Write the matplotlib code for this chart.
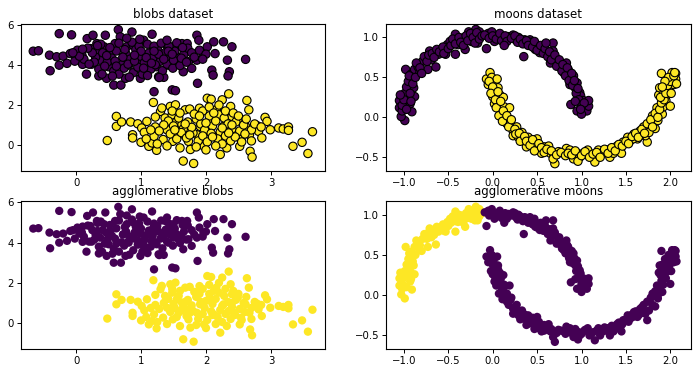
import matplotlib as mpl
import matplotlib.pyplot as plt
import numpy as np

mpl.use('agg')

# blobs: cluster 0 (purple) and cluster 1 (yellow)
blob0_x = [-0.66, -0.58, -0.26, -0.07, -0.41, -0.40, -0.30, -0.26, -0.20, -0.14, -0.09, -0.02, 0.02, 0.09,
           0.10, 0.16, 0.17, 0.26, 0.22, 0.24, 0.32, 0.33, 0.35, 0.37, 0.45, 0.43, 0.47, 0.50, 0.52, 0.58,
           0.60, 0.65, 0.68, 0.69, 0.73, 0.76, 0.78, 0.81, 0.86, 0.88, 0.94, 0.96, 0.99, 1.04, 1.06, 1.09,
           1.17, 1.19, 1.20, 1.24, 1.27, 1.35, 1.37, 1.35, 1.42, 1.48, 1.53, 1.50, 1.55, 1.63, 1.65, 1.71,
           1.73, 1.78, 1.86, 1.89, 1.87, 1.86, 1.96, 2.02, 2.09, 2.11, 2.12, 2.14, 2.27, 2.33, 2.36, 2.34,
           2.40, 2.61,
           0.30, 0.41, 0.55, 0.62, 0.48, 0.70, 0.77, 0.83, 0.92, 0.99, 1.05, 1.12, 1.18, 1.25, 1.30, 1.38,
           1.45, 1.52, 1.58, 1.66, 1.72, 0.35, 0.44, 0.58, 0.66, 0.74, 0.88, 0.95, 1.02, 1.15, 1.22, 1.33,
           1.40, 1.49, 1.60, 0.25, 0.38, 0.52, 0.66, 0.75, 0.86, 0.97, 1.10, 1.20, 1.31, 1.43, 1.55, 1.64,
           1.78, 1.82, 0.12, 0.18, 0.05, -0.05, 0.28, 0.33, 0.47, 0.60, 0.72, 0.80, 0.90, 1.00, 1.08, 1.16,
           1.27, 1.35, 1.42, 1.50, 1.62, 1.70, 0.56, 0.82, 1.10, 1.28, 0.40, 0.62, 0.90, 1.04, 1.20, 1.48,
           0.20, 0.10, 0.78, 0.98, 1.40, 1.90, 2.00, 1.95]
blob0_y = [4.70, 4.72, 5.58, 5.52, 4.50, 3.72, 4.42, 4.00, 4.45, 4.09, 4.58, 4.20, 4.75, 4.50,
           4.04, 3.55, 5.33, 5.50, 4.83, 4.05, 5.08, 4.58, 3.46, 4.25, 5.50, 4.92, 3.34, 3.92, 4.58, 3.00,
           5.08, 5.78, 5.42, 3.00, 4.42, 3.34, 4.92, 4.00, 5.66, 5.00, 4.58, 4.09, 3.34, 5.25, 4.33, 3.75,
           5.55, 4.75, 2.67, 3.92, 3.42, 4.50, 5.08, 3.39, 4.00, 2.76, 2.72, 4.92, 4.42, 5.08, 3.67, 5.08,
           4.17, 3.84, 5.50, 5.25, 3.09, 4.25, 4.50, 4.92, 3.75, 3.50, 5.17, 4.58, 5.17, 4.25, 3.67, 3.46,
           4.92, 4.29,
           4.40, 4.62, 4.35, 4.71, 4.15, 4.02, 4.55, 4.30, 4.78, 4.45, 4.12, 4.60, 4.35, 4.82, 4.20, 4.65,
           4.40, 4.70, 4.15, 4.55, 4.85, 3.80, 3.95, 3.70, 3.55, 3.85, 3.62, 3.90, 3.55, 3.80, 4.02, 3.72,
           4.05, 3.85, 3.98, 4.62, 5.05, 4.88, 5.10, 4.78, 5.15, 4.95, 5.05, 4.95, 5.10, 4.95, 5.12, 4.88,
           4.62, 4.40, 4.30, 4.85, 4.45, 4.62, 4.15, 4.98, 4.48, 4.20, 4.40, 4.05, 4.20, 4.70, 4.38, 4.10,
           4.55, 4.30, 4.70, 4.25, 4.35, 4.15, 3.45, 3.40, 3.48, 3.38, 3.55, 3.95, 4.50, 3.85, 4.70, 4.55,
           4.05, 4.80, 5.35, 5.30, 5.25, 4.75, 4.55, 4.30]

blob1_x = [0.48, 0.62, 0.62, 0.70, 0.84, 0.87, 0.87, 0.95, 1.01, 1.00, 1.05, 1.09, 1.12, 1.17, 1.19, 1.20,
           1.22, 1.24, 1.30, 1.34, 1.37, 1.40, 1.45, 1.48, 1.49, 1.53, 1.55, 1.58, 1.63, 1.65, 1.68, 1.71,
           1.73, 1.76, 1.81, 1.84, 1.86, 1.90, 1.91, 1.97, 2.02, 2.08, 2.06, 2.12, 2.16, 2.20, 2.22, 2.25,
           2.27, 2.32, 2.35, 2.38, 2.40, 2.43, 2.49, 2.52, 2.54, 2.61, 2.63, 2.66, 2.67, 2.68, 2.71, 2.79,
           2.81, 2.86, 2.91, 2.94, 2.99, 3.12, 3.19, 3.27, 3.27, 3.34, 3.48, 3.57, 3.64,
           1.42, 1.50, 1.58, 1.65, 1.72, 1.80, 1.85, 1.92, 1.98, 2.05, 2.10, 2.15, 2.22, 2.28, 2.34, 2.40,
           2.46, 2.52, 2.58, 1.45, 1.55, 1.62, 1.70, 1.78, 1.88, 1.95, 2.02, 2.08, 2.18, 2.25, 2.30, 2.38,
           2.45, 2.55, 1.35, 1.28, 1.22, 1.32, 1.48, 1.60, 1.75, 1.82, 1.95, 2.05, 2.12, 2.20, 2.30, 2.42,
           2.50, 2.62, 2.70, 2.75, 1.15, 1.08, 1.25, 1.40, 1.60, 1.85, 2.00, 2.15, 2.35, 1.68, 1.90, 2.00,
           2.25, 1.52, 1.75, 2.10, 2.40, 2.60, 2.85, 2.70]
blob1_y = [0.22, 1.43, 0.93, 1.15, 1.15, 0.51, 0.35, 1.06, 0.85, 0.13, 0.63, 1.18, -0.07, 0.10, 2.13, 0.43,
           0.90, -0.27, 1.68, 0.27, 1.35, 0.76, 1.93, 1.51, 0.18, 2.01, 1.18, 0.51, 1.01, -0.81, 1.76, 0.68,
           0.18, -0.23, -0.93, 1.51, 0.51, 1.84, 0.93, -0.07, 2.34, 2.29, 1.26, 0.43, 1.76, 1.51, -0.48, 2.26,
           0.93, -0.15, 2.56, 1.93, 1.43, 0.51, 1.26, -0.07, 0.27, 0.93, 2.23, 1.76, 0.51, -0.32, -0.61, 0.96,
           0.68, 0.35, 1.38, 1.18, 0.76, 0.85, 0.80, 0.90, 0.73, -0.07, 0.13, -0.43, 0.66,
           1.20, 0.95, 1.35, 0.80, 1.15, 0.60, 1.30, 1.05, 0.75, 1.45, 0.95, 1.20, 0.65, 1.35, 1.05, 0.80,
           1.15, 0.70, 1.00, 0.55, 0.30, 0.62, 0.35, 0.88, 0.20, 0.45, 0.15, 0.58, 0.30, 0.05, 0.45, 0.20,
           0.40, 0.15, 1.00, 0.70, 1.40, 1.85, 1.70, 1.60, 1.80, 1.55, 1.70, 1.90, 1.60, 2.00, 1.70, 1.60,
           1.45, 1.30, 0.75, 1.05, 0.75, 0.30, 0.05, -0.05, -0.15, -0.10, -0.25, -0.05, 0.60, 1.05, 1.45, 1.10,
           0.85, 0.75, 0.50, 0.40, 1.00, 0.55, 0.90, 0.20]

# moons: upper moon split where agglomerative clustering cut it, and lower moon
upper_left_x = [-0.99, -1.03, -1.05, -1.05, -1.02, -0.96, -0.98, -0.91, -0.93, -0.88, -0.89, -0.91, -0.92,
                -0.88, -0.84, -0.82, -0.79, -0.75, -0.73, -0.71, -0.69, -0.64, -0.61, -0.58, -0.53, -0.51,
                -0.48, -0.42, -0.42, -0.39, -0.35, -0.31, -0.27, -0.24, -0.19, -0.17, -0.14, -0.15,
                -1.02, -0.99, -1.00, -0.97, -0.95, -0.93, -0.90, -0.94, -0.87, -0.86, -0.82, -0.80, -0.77,
                -0.74, -0.72, -0.68, -0.66, -0.63, -0.60, -0.56, -0.55, -0.50, -0.47, -0.45, -0.42, -0.38,
                -0.36, -0.33, -0.30, -0.28, -0.25, -0.22, -0.20, -0.18, -0.15, -0.12, -0.97, -1.04, -0.92]
upper_left_y = [-0.04, 0.01, 0.21, 0.12, 0.08, 0.27, 0.60, 0.07, 0.17, 0.26, 0.37, 0.48, 0.54,
                0.60, 0.63, 0.56, 0.70, 0.74, 0.60, 0.83, 0.72, 0.63, 0.79, 0.85, 0.79, 0.91,
                0.95, 1.04, 0.79, 0.91, 0.99, 0.85, 1.07, 0.95, 1.10, 0.93, 1.04, 1.07,
                0.15, 0.30, 0.22, 0.38, 0.45, 0.30, 0.42, 0.52, 0.50, 0.68, 0.62, 0.55, 0.76,
                0.70, 0.78, 0.80, 0.75, 0.85, 0.82, 0.88, 0.80, 0.86, 0.90, 0.98, 0.92, 1.00,
                0.94, 0.90, 1.02, 0.96, 1.05, 1.00, 0.93, 1.06, 0.98, 1.02, 0.10, 0.28, 0.20]

upper_right_x = [-0.07, -0.05, -0.01, 0.02, 0.06, 0.12, 0.18, 0.23, 0.26, 0.29, 0.35, 0.36, 0.42, 0.44,
                 0.48, 0.52, 0.53, 0.56, 0.61, 0.65, 0.68, 0.68, 0.71, 0.74, 0.77, 0.80, 0.83, 0.85, 0.87,
                 0.87, 0.91, 0.93, 0.95, 0.98, 0.99, 1.02, 1.04, 1.06, 0.95, 1.00, 0.88, 1.08, 1.08,
                 -0.09, -0.04, 0.00, 0.04, 0.08, 0.10, 0.14, 0.16, 0.21, 0.25, 0.28, 0.31, 0.34, 0.38,
                 0.40, 0.45, 0.47, 0.50, 0.54, 0.57, 0.59, 0.62, 0.64, 0.66, 0.70, 0.72, 0.75, 0.78, 0.79,
                 0.82, 0.84, 0.86, 0.89, 0.90, 0.92, 0.94, 0.96, 0.97, 1.00, 1.03, 0.99, 0.93, 0.60, 0.13]
upper_right_y = [0.86, 1.05, 1.07, 0.95, 1.02, 0.98, 1.01, 1.03, 0.97, 1.00, 0.76, 0.97, 0.97, 0.94,
                 0.85, 0.89, 0.81, 0.85, 0.79, 0.68, 0.93, 0.83, 0.74, 0.68, 0.62, 0.56, 0.68, 0.60, 0.41,
                 0.50, 0.52, 0.37, 0.43, 0.31, 0.27, 0.21, 0.12, 0.08, 0.08, 0.04, 0.16, 0.14, 0.21,
                 1.03, 0.99, 1.02, 0.98, 1.05, 0.96, 1.02, 0.95, 0.99, 1.02, 0.94, 0.98, 0.92, 0.96,
                 0.90, 0.88, 0.95, 0.84, 0.90, 0.80, 0.86, 0.76, 0.82, 0.72, 0.78, 0.64, 0.72, 0.58, 0.66,
                 0.52, 0.62, 0.46, 0.55, 0.40, 0.46, 0.30, 0.36, 0.22, 0.15, 0.18, 0.10, 0.20, 0.93, 0.90]

lower_x = [-0.07, -0.03, -0.01, -0.05, 0.01, 0.05, 0.06, 0.00, 0.05, 0.08, 0.02, 0.08, 0.12, 0.13, 0.10,
           0.19, 0.14, 0.16, 0.20, 0.23, 0.23, 0.27, 0.29, 0.33, 0.35, 0.38, 0.40, 0.44, 0.50, 0.48, 0.52,
           0.55, 0.58, 0.63, 0.65, 0.69, 0.70, 0.74, 0.80, 0.83, 0.87, 0.91, 0.95, 0.98, 1.02, 1.07, 1.11,
           1.15, 1.19, 1.24, 1.29, 1.32, 1.36, 1.40, 1.44, 1.47, 1.52, 1.55, 1.59, 1.63, 1.66, 1.70, 1.74,
           1.72, 1.77, 1.80, 1.83, 1.86, 1.91, 1.92, 1.85, 1.95, 1.87, 1.92, 1.96, 1.88, 1.99, 2.02, 1.90,
           2.02, 2.06, 2.04, 2.06, 2.00, 1.76, 1.66, 1.58, 1.45,
           -0.04, 0.00, -0.02, 0.03, 0.06, 0.04, 0.09, 0.07, 0.12, 0.11, 0.16, 0.18, 0.21, 0.25, 0.26,
           0.30, 0.31, 0.36, 0.38, 0.42, 0.45, 0.47, 0.52, 0.55, 0.58, 0.61, 0.66, 0.68, 0.72, 0.77, 0.82,
           0.85, 0.89, 0.93, 0.96, 1.00, 1.04, 1.09, 1.13, 1.17, 1.21, 1.26, 1.30, 1.34, 1.38, 1.42, 1.46,
           1.50, 1.53, 1.57, 1.61, 1.64, 1.68, 1.71, 1.74, 1.78, 1.80, 1.83, 1.86, 1.88, 1.90, 1.93, 1.89,
           1.95, 1.97, 2.00, 1.98, 2.04, 2.07, 1.94, 1.91, 2.01, 2.05]
lower_y = [0.48, 0.56, 0.50, 0.41, 0.43, 0.48, 0.37, 0.26, 0.30, 0.28, 0.17, 0.13, 0.25, 0.13, 0.05,
           0.12, -0.02, -0.08, -0.06, -0.17, -0.23, -0.12, -0.25, -0.19, -0.29, -0.37, -0.25, -0.31, -0.27,
           -0.37, -0.41, -0.45, -0.37, -0.36, -0.45, -0.48, -0.58, -0.43, -0.45, -0.39, -0.41, -0.52, -0.45,
           -0.50, -0.45, -0.41, -0.48, -0.56, -0.41, -0.45, -0.41, -0.50, -0.45, -0.36, -0.39, -0.31, -0.25,
           -0.29, -0.21, -0.27, -0.17, -0.12, -0.31, -0.23, -0.08, 0.02, -0.14, -0.04, 0.04, 0.13, 0.12,
           0.21, 0.28, 0.33, 0.29, 0.37, 0.37, 0.43, 0.55, 0.56, 0.55, 0.41, 0.48, 0.14, -0.19, -0.23,
           -0.27, -0.45,
           0.45, 0.38, 0.30, 0.22, 0.32, 0.12, 0.20, 0.02, 0.08, -0.05, 0.02, -0.12, -0.03, -0.15, -0.21,
           -0.20, -0.30, -0.24, -0.30, -0.35, -0.28, -0.42, -0.33, -0.38, -0.44, -0.40, -0.42, -0.52, -0.47,
           -0.44, -0.48, -0.45, -0.47, -0.42, -0.55, -0.48, -0.43, -0.50, -0.46, -0.44, -0.50, -0.40, -0.45,
           -0.38, -0.42, -0.34, -0.36, -0.30, -0.33, -0.24, -0.20, -0.25, -0.15, -0.20, -0.08, -0.03, -0.12,
           0.05, 0.00, 0.10, 0.18, 0.22, 0.25, 0.30, 0.40, 0.45, 0.50, 0.52, 0.42, 0.45, 0.38, 0.30, 0.56]

purple = '#440154'
yellow = '#fde725'

blobs_x = np.array(blob0_x + blob1_x)
blobs_y = np.array(blob0_y + blob1_y)
blobs_c = [purple] * len(blob0_x) + [yellow] * len(blob1_x)

moons_x = np.array(upper_left_x + upper_right_x + lower_x)
moons_y = np.array(upper_left_y + upper_right_y + lower_y)
n_ul, n_ur, n_lo = len(upper_left_x), len(upper_right_x), len(lower_x)
moons_true_c = [purple] * (n_ul + n_ur) + [yellow] * n_lo
moons_agg_c = [yellow] * n_ul + [purple] * (n_ur + n_lo)

fig = plt.figure(figsize=(6.97, 3.73), dpi=100)
ax1 = fig.add_axes([0.030, 0.542, 0.436, 0.394])
ax2 = fig.add_axes([0.554, 0.542, 0.437, 0.394])
ax3 = fig.add_axes([0.030, 0.064, 0.436, 0.397])
ax4 = fig.add_axes([0.554, 0.064, 0.437, 0.397])

ms = 36
ax1.scatter(blobs_x, blobs_y, c=blobs_c, s=ms, edgecolors='black', linewidths=0.8)
ax1.set_title('blobs dataset', fontsize=8.5, pad=4)
ax2.scatter(moons_x, moons_y, c=moons_true_c, s=ms, edgecolors='black', linewidths=0.8)
ax2.set_title('moons dataset', fontsize=8.5, pad=4)
ax3.scatter(blobs_x, blobs_y, c=blobs_c, s=ms, linewidths=0)
ax3.set_title('agglomerative blobs', fontsize=8.5, pad=4)
ax4.scatter(moons_x, moons_y, c=moons_agg_c, s=ms, linewidths=0)
ax4.set_title('agglomerative moons', fontsize=8.5, pad=4)

for ax in (ax1, ax3):
    ax.set_xlim(-0.85, 3.83)
    ax.set_ylim(-1.3, 6.07)
    ax.set_xticks([0, 1, 2, 3])
    ax.set_yticks([0, 2, 4, 6])
for ax in (ax2, ax4):
    ax.set_xlim(-1.2, 2.23)
    ax.set_ylim(-0.67, 1.17)
    ax.set_xticks([-1.0, -0.5, 0.0, 0.5, 1.0, 1.5, 2.0])
    ax.set_yticks([-0.5, 0.0, 0.5, 1.0])
for ax in (ax1, ax2, ax3, ax4):
    ax.tick_params(labelsize=7.3, length=3, width=0.7, pad=2)
    for s in ax.spines.values():
        s.set_linewidth(0.8)

plt.savefig('out.png', dpi=100)
plt.close(fig)
